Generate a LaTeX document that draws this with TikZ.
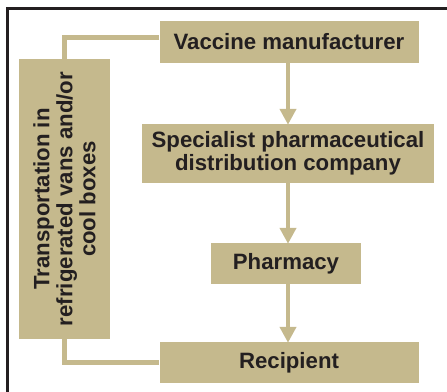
\documentclass[tikz,border=0pt]{standalone}
\usepackage{fontspec}
\setmainfont{Liberation Sans}
\usetikzlibrary{arrows.meta,positioning}
\definecolor{vcBox}{HTML}{C5B98D}
\definecolor{vcText}{HTML}{231F20}
\definecolor{vcFrame}{HTML}{231F20}
\tikzset{
  vc/.style={font=\bfseries\fontsize{22.2}{23}\selectfont, text=vcText},
  box/.style={fill=vcBox, align=center, inner sep=0pt},
  flow/.style={-{Triangle[length=16pt, width=16pt]}, draw=vcBox, line width=4.5pt, shorten >=-1pt},
  link/.style={-, draw=vcBox, line width=4.5pt},
}
\begin{document}
\begin{tikzpicture}[vc, x=1pt, y=-1pt]
\useasboundingbox (0,0) rectangle (447,391);
\clip (0,0) rectangle (447,391);
% ramka
\draw[vcFrame, line width=3pt] (7,8) rectangle (470,420);
% łańcuch dostaw
\node[box, minimum width=259pt, minimum height=42pt] (vac)    at (289,42)    {Vaccine manufacturer};
\node[box, minimum width=292pt, minimum height=59pt] (spec)   at (288,153.5) {Specialist pharmaceutical\\distribution company};
\node[box, minimum width=150pt, minimum height=41pt] (pharm)  at (286,263.5) {Pharmacy};
\node[box, minimum width=259pt, minimum height=41pt] (recip)  at (289,362.5) {Recipient};
% transport
\node[box, minimum width=280pt, minimum height=91pt, rotate=90] (trans) at (64.5,199)
  {Transportation in\\refrigerated vans and/or\\cool boxes};

\draw[flow] (vac.south -| spec.north) -- (spec.north);
\draw[flow] (spec.south) -- (spec.south |- pharm.north);
\draw[flow] (pharm.south -| spec.south) -- (spec.south |- recip.north);
\draw[link] ([yshift=4.5pt]vac.west) -| (trans.east);
\draw[link] (trans.west) |- (recip.west);
\end{tikzpicture}
\end{document}
